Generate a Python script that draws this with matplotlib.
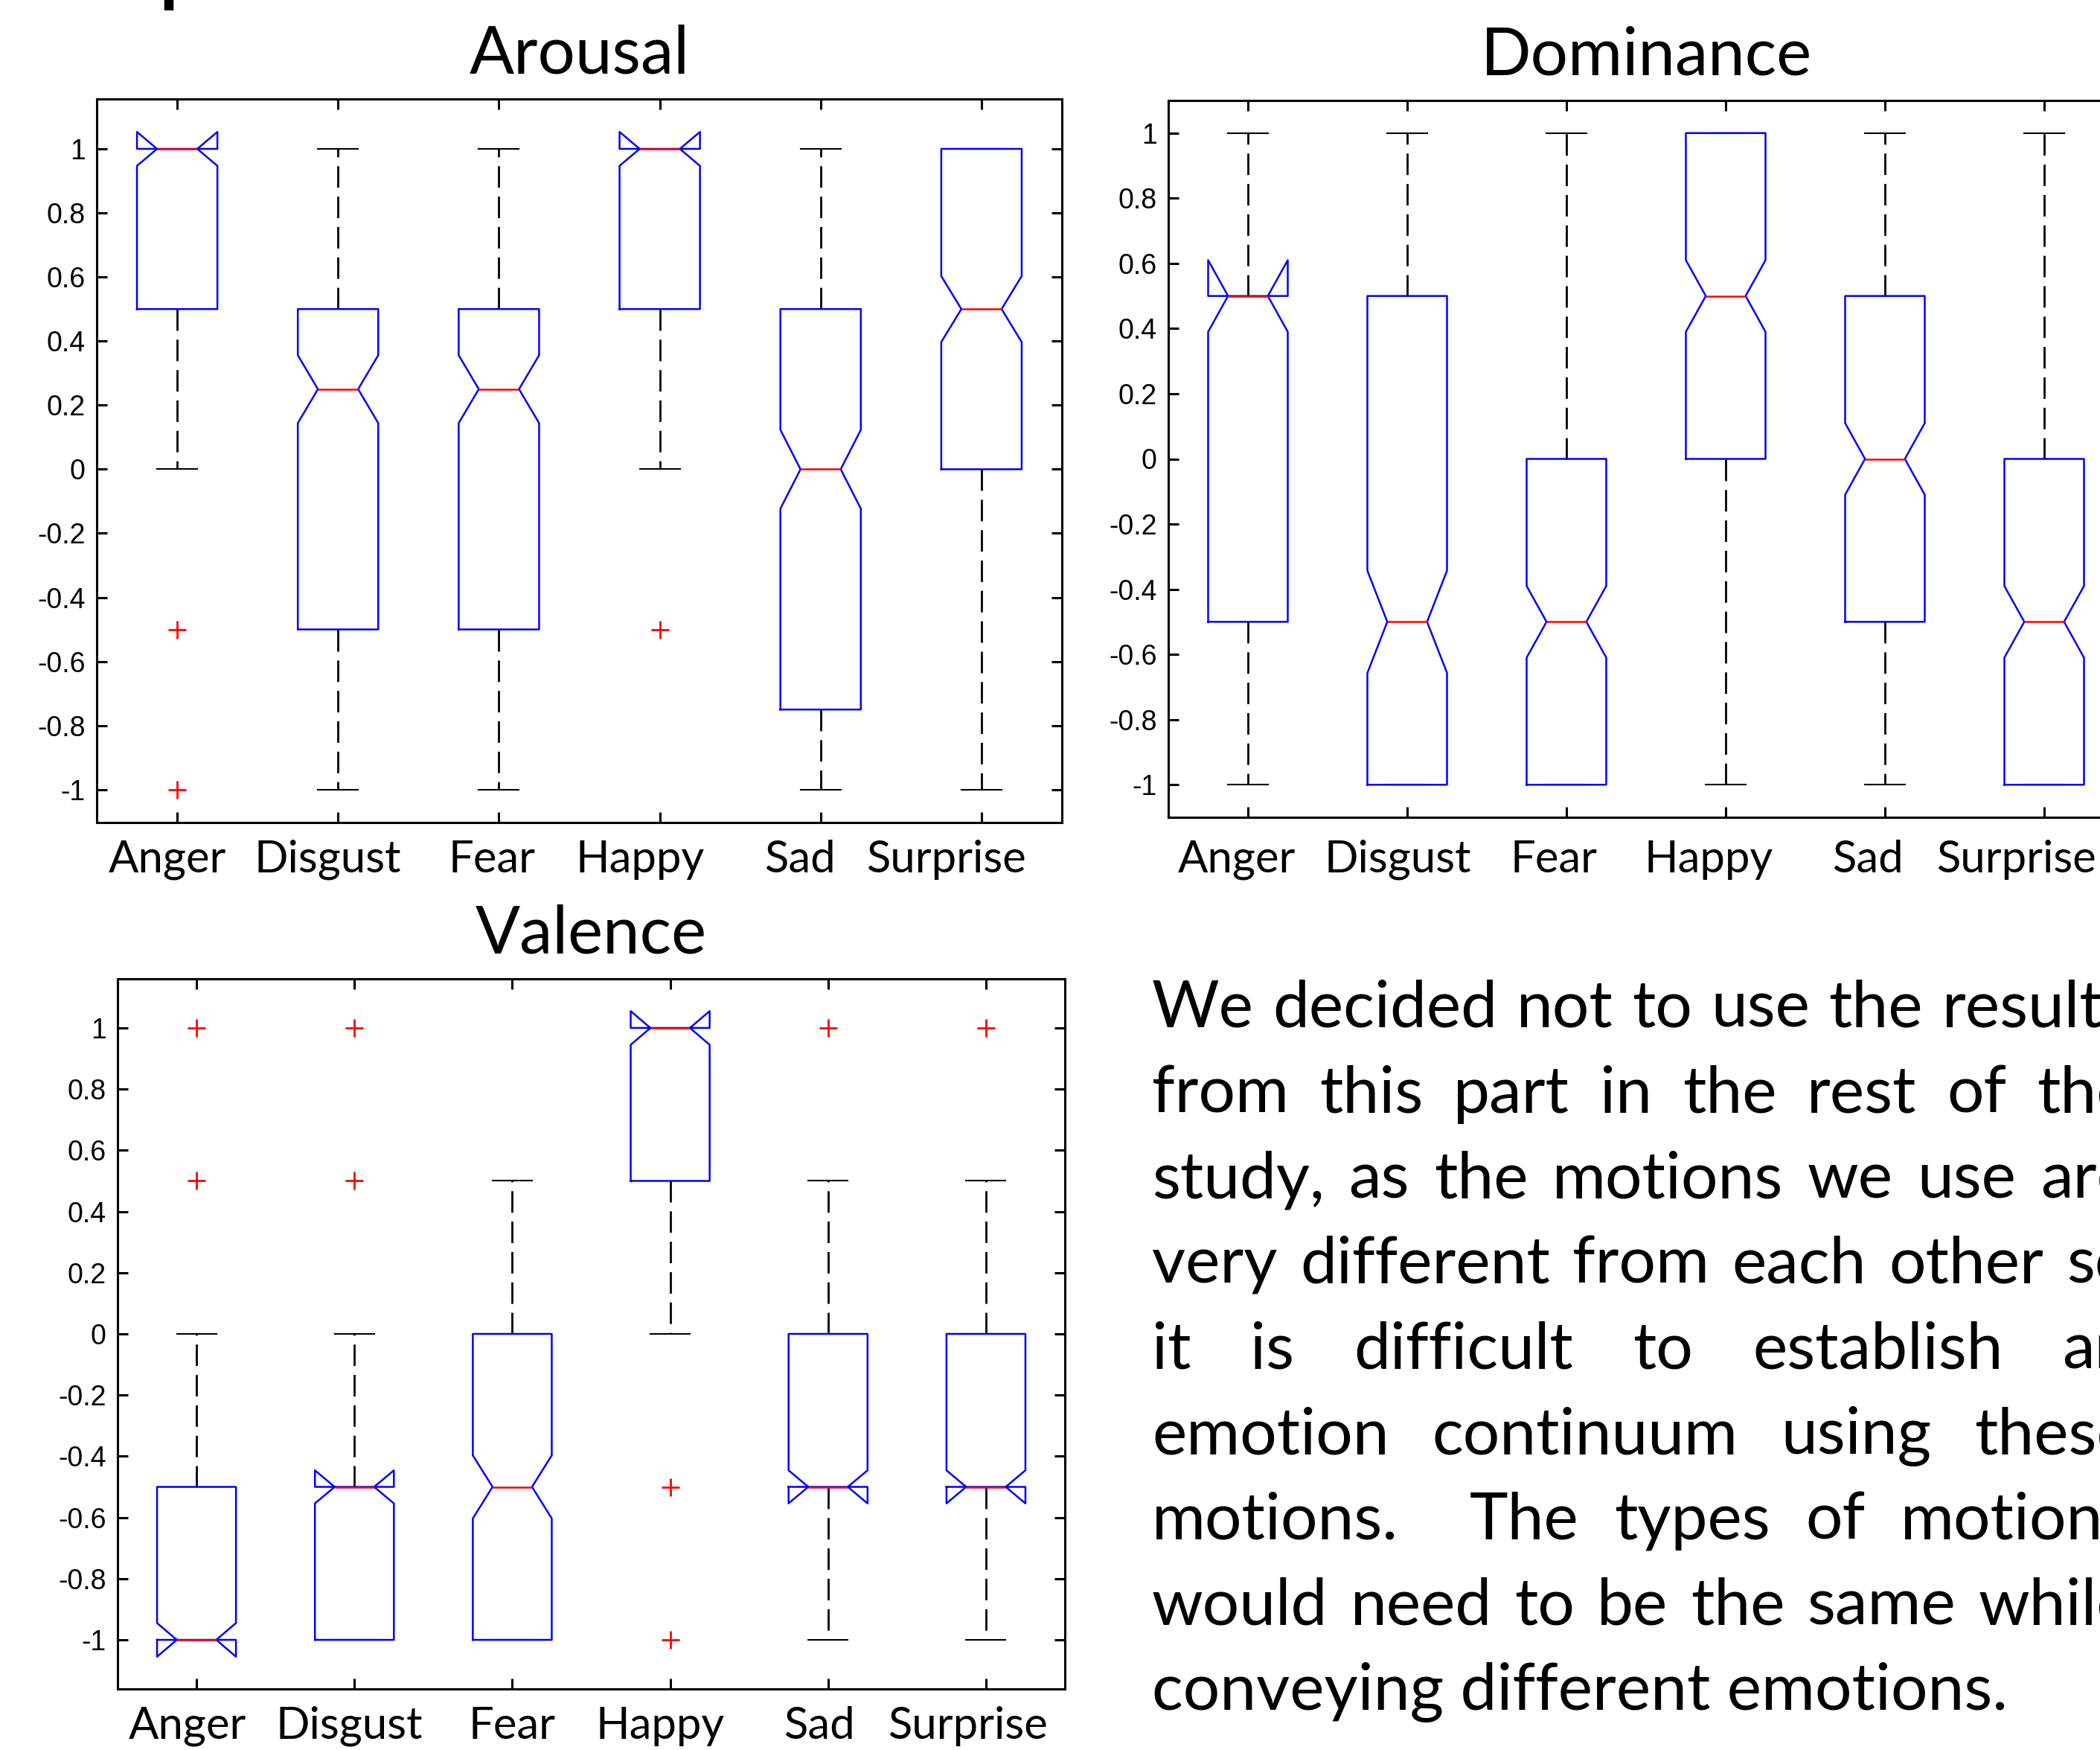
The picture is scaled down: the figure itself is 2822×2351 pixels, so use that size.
import numpy as np
import matplotlib
matplotlib.use("Agg")
import matplotlib.pyplot as plt

W, H = 2822, 2351

emotions = ["Anger", "Disgust", "Fear", "Happy", "Sad", "Surprise"]

# Arousal
arousal_q1 = [0.5, -0.5, -0.5, 0.5, -0.75, 0.0]
arousal_med = [1.0, 0.25, 0.25, 1.0, 0.0, 0.5]
arousal_q3 = [1.0, 0.5, 0.5, 1.0, 0.5, 1.0]
arousal_lo = [0.0, -1.0, -1.0, 0.0, -1.0, -1.0]
arousal_hi = [1.0, 1.0, 1.0, 1.0, 1.0, 1.0]
arousal_notch = [0.053, 0.106, 0.106, 0.053, 0.123, 0.103]
arousal_fliers = [[-0.5, -1.0], [], [], [-0.5], [], []]

# Dominance
dominance_q1 = [-0.5, -1.0, -1.0, 0.0, -0.5, -1.0]
dominance_med = [0.5, -0.5, -0.5, 0.5, 0.0, -0.5]
dominance_q3 = [0.5, 0.5, 0.0, 1.0, 0.5, 0.0]
dominance_lo = [-1.0, -1.0, -1.0, -1.0, -1.0, -1.0]
dominance_hi = [1.0, 1.0, 1.0, 1.0, 1.0, 1.0]
dominance_notch = [0.11, 0.157, 0.11, 0.11, 0.11, 0.11]
dominance_fliers = [[], [], [], [], [], []]

# Valence
valence_q1 = [-1.0, -1.0, -1.0, 0.5, -0.5, -0.5]
valence_med = [-1.0, -0.5, -0.5, 1.0, -0.5, -0.5]
valence_q3 = [-0.5, -0.5, 0.0, 1.0, 0.0, 0.0]
valence_lo = [-1.0, -1.0, -1.0, 0.0, -1.0, -1.0]
valence_hi = [0.0, 0.0, 0.5, 1.0, 0.5, 0.5]
valence_notch = [0.055, 0.054, 0.103, 0.055, 0.054, 0.054]
valence_fliers = [[0.5, 1.0], [0.5, 1.0], [], [-0.5, -1.0], [1.0], [1.0]]

body_lines = [
    "We decided not to use the results",
    "from this part in the rest of the",
    "study, as the motions we use are",
    "very different from each other so",
    "it is difficult to establish an",
    "emotion continuum using these",
    "motions.  The types of motions",
    "would need to be the same while",
    "conveying different emotions.",
]

TXT = ["Lato", "DejaVu Sans"]
NUM = ["Liberation Sans", "DejaVu Sans"]


def fig_rect(left, top, right, bottom):
    return [left / W, 1 - bottom / H, (right - left) / W, (bottom - top) / H]


def draw_panel(ax, title, q1, med, q3, lo, hi, notch, fliers, label_dx, label_dy):
    stats = []
    for i, name in enumerate(emotions):
        stats.append(dict(q1=q1[i], med=med[i], q3=q3[i], whislo=lo[i], whishi=hi[i],
                          cilo=med[i] - notch[i], cihi=med[i] + notch[i],
                          fliers=fliers[i], label=name))
    pos = np.arange(1, len(emotions) + 1)
    ax.bxp(stats, positions=pos, widths=0.5, shownotches=True,
           boxprops=dict(color="blue", lw=1.8, zorder=2.05),
           medianprops=dict(color="red", lw=1.8),
           whiskerprops=dict(color="black", lw=2.0, linestyle=(0, (10.4, 4.3)), zorder=1.9),
           capprops=dict(color="black", lw=1.5, zorder=1.9),
           flierprops=dict(marker="+", markeredgecolor="red", markersize=17,
                           markeredgewidth=2.0, linestyle="none"))

    # y range like matlab: data extent (with notches) plus 5% each side
    vals = list(lo) + list(hi) + [m - n for m, n in zip(med, notch)] + \
        [m + n for m, n in zip(med, notch)] + [f for fl in fliers for f in fl]
    ymin, ymax = min(vals), max(vals)
    pad = 0.05 * (ymax - ymin)
    ax.set_ylim(ymin - pad, ymax + pad)
    ax.set_xlim(0.5, len(emotions) + 0.5)

    ticks = np.round(np.arange(-1, 1.01, 0.2), 1) + 0.0
    ax.set_yticks(ticks)
    ax.set_yticklabels([f"{t:g}" for t in ticks], family=NUM, fontsize=27)
    ax.set_xticks(pos)
    ax.set_xticklabels([])
    ax.tick_params(direction="in", length=10, width=2.2, top=True, right=True, pad=11)
    for sp in ax.spines.values():
        sp.set_linewidth(2.2)

    ax.set_title(title, family=TXT, fontsize=64, pad=25)
    for p, name, dx in zip(pos, emotions, label_dx):
        ax.annotate(name, xy=(p, 0), xycoords=("data", "axes fraction"),
                    xytext=(dx * 0.72, -label_dy * 0.72), textcoords="offset points",
                    ha="center", va="baseline", family=TXT, fontsize=43)


fig = plt.figure(figsize=(W / 100, H / 100), dpi=100)

ax1 = fig.add_axes(fig_rect(130, 133, 1427, 1105))
draw_panel(ax1, "Arousal", arousal_q1, arousal_med, arousal_q3, arousal_lo, arousal_hi,
           arousal_notch, arousal_fliers, [-13.5, -14.4, -9, -27, -28, -47], 67)

ax2 = fig.add_axes(fig_rect(1570, 135, 2854, 1098))
draw_panel(ax2, "Dominance", dominance_q1, dominance_med, dominance_q3, dominance_lo,
           dominance_hi, dominance_notch, dominance_fliers,
           [-15, -12.6, -17, -23, -23, -38], 74)

ax3 = fig.add_axes(fig_rect(158, 1315, 1431, 2269))
draw_panel(ax3, "Valence", valence_q1, valence_med, valence_q3, valence_lo, valence_hi,
           valence_notch, valence_fliers, [-12, -7, 0, -14, -12, -24], 67)

# descender of the cut-off slide heading
fig.text(210 / W, 1 + 10 / H, "p", family=TXT, fontsize=100, va="baseline")

# justified paragraph on the right
renderer = fig.canvas.get_renderer()
L, R = 1548, 2864
base0, lead = 1380, 114.6
fs = 63
for k, line in enumerate(body_lines):
    y = 1 - (base0 + k * lead) / H
    if k == len(body_lines) - 1:
        fig.text(L / W, y, line, family=TXT, fontsize=fs, va="baseline")
        continue
    words = line.split(" ")
    texts = [fig.text(0, y, w, family=TXT, fontsize=fs, va="baseline") for w in words]
    widths = [t.get_window_extent(renderer).width if w else 0 for t, w in zip(texts, words)]
    gap = (R - L - sum(widths)) / (len(words) - 1)
    x = L
    for t, w in zip(texts, widths):
        t.set_x(x / W)
        x += w + gap

fig.savefig("out.png", dpi=100)
